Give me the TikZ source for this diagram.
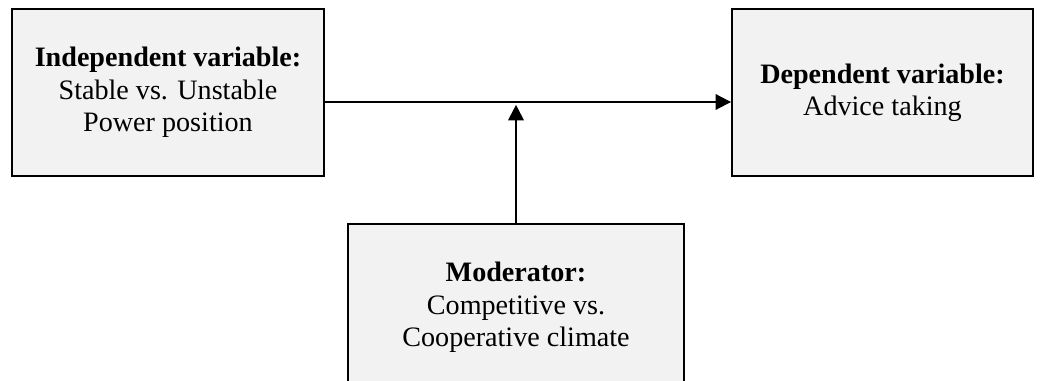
\documentclass[tikz,border=0pt]{standalone}
\usepackage{fontspec}
\setmainfont{Liberation Serif}
\usetikzlibrary{arrows.meta}

\begin{document}
\begin{tikzpicture}[x=0.025cm,y=0.025cm,
	varbox/.style={draw=black,line width=1.3pt,fill=black!5,minimum height=4.175cm,align=center,
		font=\fontsize{20}{23}\selectfont},
	arr/.style={line width=1.4pt,-{Triangle[length=11pt,width=11pt]}}]

	\useasboundingbox (0,0) rectangle (1045,381);
	\clip (0,0) rectangle (1045,381);

	\node[varbox,minimum width=7.8cm] (indep) at (168,288.5) {\textbf{Independent variable:}\\Stable vs. Unstable\\Power position};
	\node[varbox,minimum width=7.525cm] (dep) at (882.5,288.5) {\textbf{Dependent variable:}\\Advice taking};
	\node[varbox,minimum width=8.4cm] (moder) at (516,73.5) {\textbf{Moderator:}\\Competitive vs.\\Cooperative climate};

	\coordinate (junc) at (516,279);
	\draw[arr] (indep.east |- junc) -- (dep.west |- junc);
	\draw[arr,shorten >=2pt] (moder.north) -- (junc);

\end{tikzpicture}
\end{document}
